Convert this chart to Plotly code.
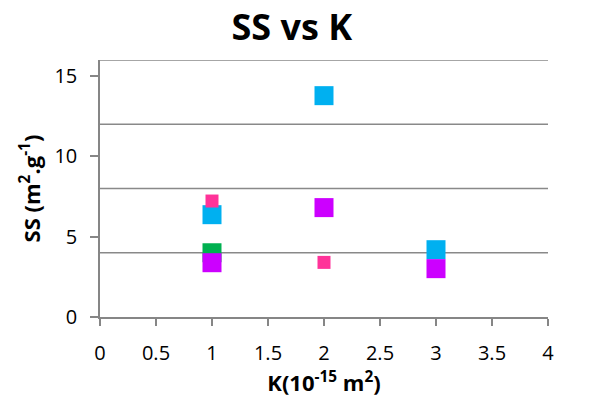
import plotly.graph_objects as go

# Data
blue_x = [1, 2, 3]
blue_y = [6.37, 13.78, 4.19]
green_x = [1]
green_y = [4.0]
purple_x = [1, 2, 3]
purple_y = [3.38, 6.81, 3.01]
pink_x = [1, 2]
pink_y = [7.22, 3.40]

x_ticks = [0, 0.5, 1, 1.5, 2, 2.5, 3, 3.5, 4]
y_ticks = [0, 5, 10, 15]
grid_vals = [4, 8, 12, 16]

FONT = "Open Sans"
AX = "#868686"

fig = go.Figure()
series = [
    (blue_x, blue_y, "#00B0F0", 19),
    (green_x, green_y, "#00B050", 19),
    (purple_x, purple_y, "#CC00FF", 19),
    (pink_x, pink_y, "#FF3399", 13),
]
for xs, ys, col, sz in series:
    fig.add_trace(go.Scatter(x=xs, y=ys, mode="markers",
                             marker=dict(symbol="square", size=sz, color=col,
                                         line=dict(width=0)),
                             showlegend=False, hoverinfo="skip"))

for g in grid_vals:
    fig.add_hline(y=g, line=dict(color="#898989", width=1.5), layer="below")

fig.update_layout(
    width=603, height=405,
    margin=dict(l=100, r=55, t=60, b=88, autoexpand=False),
    paper_bgcolor="white", plot_bgcolor="white",
    font=dict(family=FONT, color="black"),
    title=dict(text="<b>SS vs K</b>", x=0.484, xanchor="center",
               y=0.933, yanchor="middle", font=dict(size=36, family=FONT)),
    xaxis=dict(range=[0, 4], tickvals=x_ticks, ticktext=[str(v) for v in x_ticks],
               showgrid=False, zeroline=False, showline=True, linecolor=AX, linewidth=1.5,
               ticks="outside", ticklen=7, tickcolor=AX, tickwidth=1.5,
               ticklabelstandoff=10,
               tickfont=dict(size=20), fixedrange=True, automargin=False,
               title=dict(text="<b>K(10<sup>-15</sup> m<sup>2</sup>)</b>", font=dict(size=22), standoff=2)),
    yaxis=dict(range=[0, 16], tickvals=y_ticks, ticktext=[str(v) for v in y_ticks],
               showgrid=False, zeroline=False, showline=True, linecolor=AX, linewidth=1.5,
               ticks="outside", ticklen=8, tickcolor=AX, tickwidth=1.5,
               ticklabelstandoff=9,
               tickfont=dict(size=20), fixedrange=True, automargin=False,
               title=dict(text="<b>SS (m<sup>2</sup>.g<sup>-1</sup>)</b>", font=dict(size=22), standoff=8)),
)

fig.write_html("out.html", config={"displayModeBar": False},
               post_script="document.body.style.margin='0';")
